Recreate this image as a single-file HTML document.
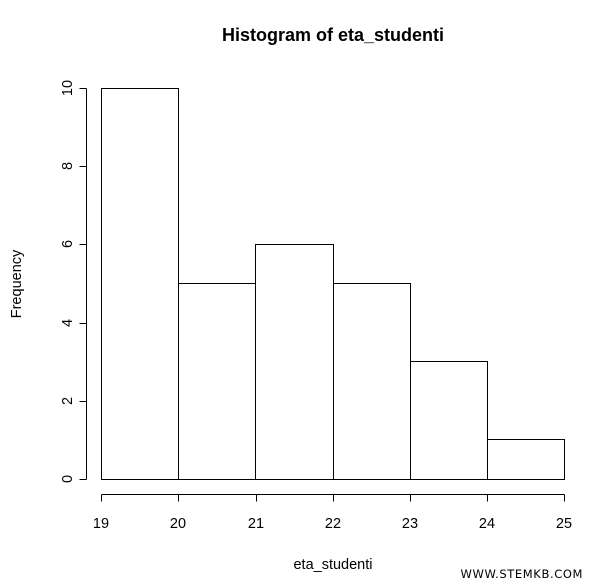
<!DOCTYPE html>
<html><head><style>body{margin:0;background:#fff}svg{display:block}text{font-family:"Liberation Sans",sans-serif;fill:#000}</style></head>
<body>
<svg width="600" height="587" viewBox="0 0 600 587" xmlns="http://www.w3.org/2000/svg">
<text x="333" y="41" font-size="18" font-weight="bold" text-anchor="middle">Histogram of eta_studenti</text>
<g fill="none" stroke="#000" stroke-width="1">
<rect x="101.5" y="88.5" width="77" height="391"/>
<rect x="178.5" y="283.5" width="77" height="196"/>
<rect x="255.5" y="244.5" width="78" height="235"/>
<rect x="333.5" y="283.5" width="77" height="196"/>
<rect x="410.5" y="361.5" width="77" height="118"/>
<rect x="487.5" y="439.5" width="77" height="40"/>
<path d="M101.5 494.5H564.5M101.5 494.5v7M178.5 494.5v7M256.5 494.5v7M333.5 494.5v7M410.5 494.5v7M487.5 494.5v7M564.5 494.5v7"/>
<path d="M86.5 479.5V88.5M86.5 479.5h-7M86.5 401.5h-7M86.5 323.5h-7M86.5 244.5h-7M86.5 166.5h-7M86.5 88.5h-7"/>
</g>
<g font-size="14.5" text-anchor="middle">
<text x="101" y="528">19</text><text x="178" y="528">20</text><text x="256" y="528">21</text><text x="333" y="528">22</text><text x="410" y="528">23</text><text x="487" y="528">24</text><text x="564" y="528">25</text>
<text transform="translate(72,479) rotate(-90)">0</text>
<text transform="translate(72,401) rotate(-90)">2</text>
<text transform="translate(72,323) rotate(-90)">4</text>
<text transform="translate(72,244) rotate(-90)">6</text>
<text transform="translate(72,166) rotate(-90)">8</text>
<text transform="translate(72,88) rotate(-90)">10</text>
<text x="333" y="569">eta_studenti</text>
<text transform="translate(21,284) rotate(-90)">Frequency</text>
</g>
<text x="583" y="578" font-size="11.5" text-anchor="end" letter-spacing="0.6" style="font-family:'DejaVu Sans',sans-serif">WWW.STEMKB.COM</text>
</svg>
</body></html>
